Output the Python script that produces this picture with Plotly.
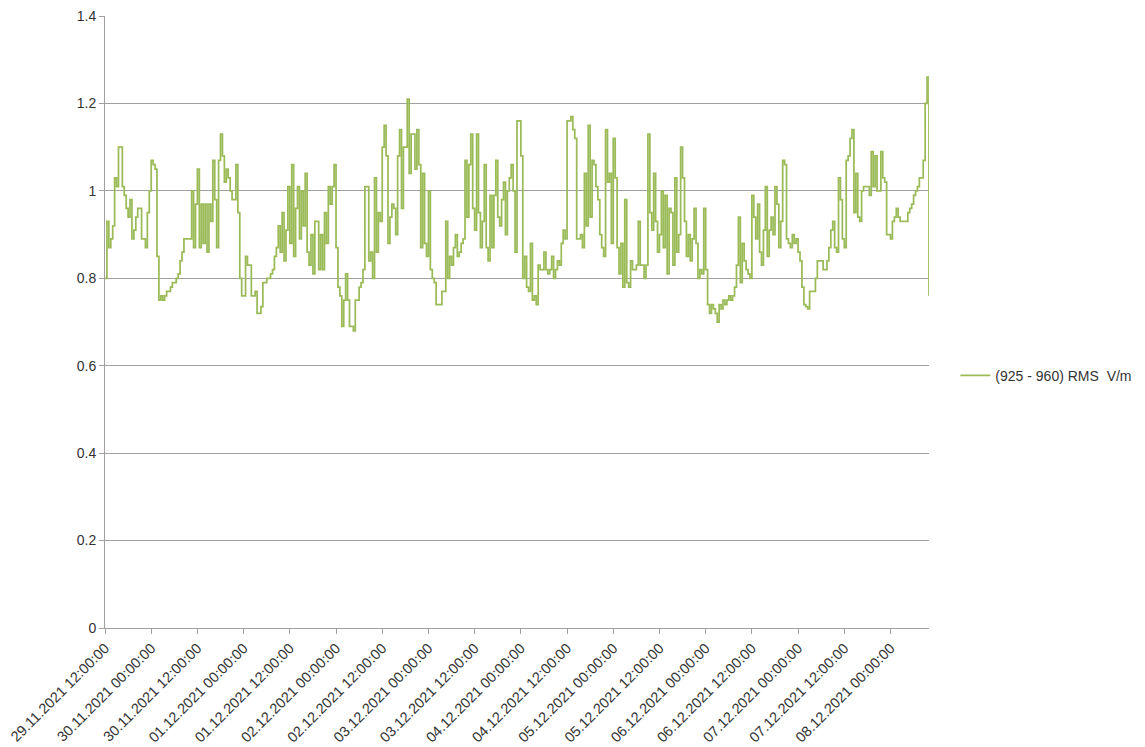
import pandas as pd
import plotly.graph_objects as go

start_time = "2021-11-29 12:00:00"
step = "30min"
series_name = "(925 - 960) RMS  V/m"

rms_values = [
    0.80,0.93,0.87,0.89,0.92,1.03,1.01,1.10,1.10,1.01,
    0.99,0.96,0.94,0.98,0.89,0.91,0.94,0.96,0.96,0.89,
    0.89,0.87,0.95,1.00,1.07,1.06,1.05,0.85,0.75,0.76,
    0.75,0.76,0.77,0.77,0.78,0.79,0.79,0.80,0.81,0.84,
    0.86,0.89,0.89,0.89,0.89,1.00,0.87,0.97,1.05,0.87,
    0.97,0.88,0.97,0.86,0.97,
    0.93,1.07,0.98,0.87,1.07,1.13,1.08,1.02,1.05,1.03,
    1.00,0.98,0.98,1.06,0.95,0.80,0.76,0.76,0.85,0.83,
    0.83,0.76,0.76,0.77,0.72,0.72,0.735,0.79,0.79,0.80,
    0.80,0.81,0.82,0.85,0.87,0.92,0.86,0.95,0.84,0.91,
    1.01,0.88,1.06,0.85,0.96,1.01,0.89,1.00,0.92,1.04,
    0.86,0.83,0.90,0.81,0.93,
    0.93,0.82,0.90,0.82,0.95,0.88,1.01,0.97,1.01,1.06,
    0.87,0.78,0.76,0.69,0.75,0.81,0.75,0.69,0.69,0.68,
    0.75,0.75,0.78,0.79,0.82,1.01,1.01,0.84,0.86,0.80,
    1.03,0.86,0.95,0.93,1.10,1.15,1.08,0.88,0.94,0.97,
    0.96,0.90,1.08,1.14,0.96,1.10,1.10,1.21,1.04,1.13,
    1.13,1.05,1.14,1.06,
    0.87,1.04,0.88,0.85,1.00,0.82,0.80,0.79,0.74,0.74,
    0.74,0.77,0.77,0.93,0.80,0.85,0.83,0.87,0.90,0.85,
    0.86,0.88,0.89,1.07,0.94,1.06,1.13,0.96,0.91,1.13,
    0.95,0.87,0.93,1.06,0.87,0.84,0.99,0.87,0.99,1.07,
    0.94,0.92,0.98,1.02,0.90,1.00,1.03,1.06,1.00,0.86,
    1.16,1.16,1.08,0.80,0.85,
    0.78,0.77,0.88,0.75,0.76,0.74,0.83,0.82,0.82,0.86,
    0.82,0.81,0.82,0.85,0.80,0.82,0.84,0.83,0.88,0.91,
    0.89,1.16,1.16,1.17,1.14,1.12,0.89,0.89,0.90,0.87,
    1.04,0.92,1.15,0.94,1.07,1.06,1.01,0.98,0.90,0.87,
    0.85,1.14,1.02,1.04,0.88,1.12,1.03,0.87,0.81,0.88,
    0.78,0.98,0.79,0.78,
    0.84,0.82,0.82,0.83,0.93,0.83,0.83,0.80,0.83,1.13,
    0.95,0.91,1.04,0.93,0.86,0.90,1.00,0.87,0.99,0.81,
    0.96,0.95,0.83,1.03,0.86,0.90,1.10,1.03,0.93,0.85,
    0.90,0.84,0.89,0.96,0.88,0.80,0.82,0.81,0.96,0.82,
    0.74,0.72,0.74,0.73,0.72,0.70,0.74,0.73,0.75,0.74,
    0.75,0.76,0.75,0.76,0.78,
    0.83,0.94,0.79,0.88,0.84,0.82,0.81,0.80,0.99,0.94,
    0.89,0.97,0.86,0.83,0.91,1.01,0.85,0.91,0.94,0.90,
    1.01,0.97,0.87,0.93,1.07,1.06,0.89,0.88,0.87,0.90,
    0.88,0.89,0.86,0.84,0.78,0.74,0.735,0.73,0.77,0.77,
    0.77,0.80,0.84,0.84,0.84,0.82,0.82,0.84,0.87,0.91,
    0.93,0.87,0.86,1.03,
    0.98,0.89,0.87,1.07,1.08,1.12,1.14,0.95,1.04,0.94,
    0.93,1.00,1.01,1.01,1.01,0.99,1.09,1.01,1.08,1.00,
    1.00,1.09,1.03,1.02,0.90,0.90,0.89,0.93,0.94,0.96,
    0.94,0.93,0.93,0.93,0.93,0.95,0.96,0.97,0.99,1.00,
    1.01,1.03,1.03,1.07,1.20,1.26,0.76,
]

y_ticks = [0, 0.2, 0.4, 0.6, 0.8, 1.0, 1.2, 1.4]
y_tick_labels = ["0", "0.2", "0.4", "0.6", "0.8", "1", "1.2", "1.4"]

times = pd.date_range(start=start_time, periods=len(rms_values), freq=step)
tick_times = pd.date_range(start=start_time, end=times[-1], freq="12h")
tick_labels = [t.strftime("%d.%m.%Y %H:%M:%S") for t in tick_times]

font_family = "Liberation Sans"
grid_color = "#a0a0a0"
text_color = "#333333"

fig = go.Figure()
fig.add_trace(go.Scatter(
    x=times, y=rms_values, mode="lines", name=series_name,
    line=dict(color="#9BBB59", width=1.75, shape="hv"),
))

# page body adds an 8px margin, so the figure is sized to fit inside it
fig.update_layout(
    width=1137, height=739,
    margin=dict(l=97, r=216, t=8, b=119),
    paper_bgcolor="white", plot_bgcolor="white",
    font=dict(family=font_family, size=12, color=text_color),
    showlegend=True,
    legend=dict(x=1.032, y=0.412, xanchor="left", yanchor="middle",
                font=dict(size=14, color=text_color), bgcolor="rgba(0,0,0,0)"),
)
fig.update_xaxes(
    range=[times[0], times[-1]], automargin=False,
    tickmode="array", tickvals=tick_times, ticktext=tick_labels,
    tickangle=-45, tickfont=dict(size=14.5), ticklabeloverflow="allow",
    showgrid=False, showline=True, linecolor=grid_color, linewidth=1,
    ticks="outside", ticklen=5, tickcolor=grid_color, zeroline=False,
)
fig.update_yaxes(
    range=[0, 1.4001], automargin=False,
    tickmode="array", tickvals=y_ticks, ticktext=y_tick_labels,
    tickfont=dict(size=14), ticklabeloverflow="allow",
    showgrid=True, gridcolor=grid_color, gridwidth=1,
    showline=True, linecolor=grid_color, linewidth=1,
    ticks="outside", ticklen=5, tickcolor=grid_color, zeroline=False,
)

fig.write_html("out.html")
